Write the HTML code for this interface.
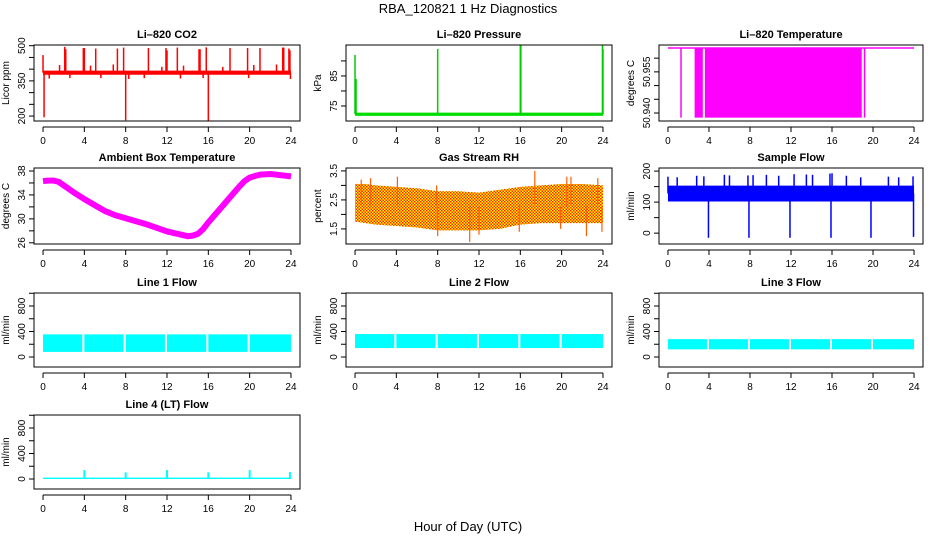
<!DOCTYPE html>
<html><head><meta charset="utf-8"><title>RBA_120821 1 Hz Diagnostics</title>
<style>
html,body{margin:0;padding:0;background:#fff;}
svg{display:block;font-family:"Liberation Sans",Arial,sans-serif;}
.tl{font-size:10px;fill:#000;}
.tt{font-size:11px;font-weight:bold;fill:#000;}
</style></head>
<body>
<svg id="chart" width="936" height="540" viewBox="0 0 936 540" xmlns="http://www.w3.org/2000/svg">
<defs>
<pattern id="rhpat" width="3" height="3" patternUnits="userSpaceOnUse">
<rect width="3" height="3" fill="#ffff00"/>
<rect x="0" y="0" width="1.5" height="1.5" fill="#ff2000"/>
<rect x="1.5" y="1.5" width="1.5" height="1.5" fill="#ff2000"/>
</pattern>
</defs>
<text x="468" y="13" text-anchor="middle" font-size="13">RBA_120821  1 Hz Diagnostics</text>
<text x="468" y="531" text-anchor="middle" font-size="13">Hour of Day (UTC)</text>
</svg>
<script>
// ---------- data ----------
const xTicks = [0,4,8,12,16,20,24];

// Li-820 CO2
const co2BandT = [0,24];
const co2BandLo = [376,376];
const co2BandHi = [394,394];
const co2SpikeT = [0.0,0.1,2.1,2.2,3.9,4.0,5.1,7.2,7.8,8.0,10.2,11.9,12.0,13.0,15.1,15.2,15.8,16.0,18.1,19.8,21.0,23.2,23.3,23.8,23.9,1.6,4.6,6.8,11.5,13.6,17.4,20.4,22.6,0.6,2.6,5.6,8.3,9.8,13.3,15.5,19.9,23.95];
const co2SpikeV = [460,195,495,485,490,490,488,488,492,182,490,490,480,492,485,485,493,178,490,490,490,492,492,488,480,418,415,420,410,415,410,418,420,360,362,362,358,362,360,362,362,358];
const co2Base = 385;

// Li-820 Pressure
const presBandT = [0,24];
const presBandLo = [71.7,71.7];
const presBandHi = [72.8,72.8];
const presSpikeT = [0.0,0.1,8.0,16.0,16.05,23.95,24.0];
const presSpikeV = [92,84,94,95.5,95.5,95.5,94];
const presBase = 72.3;

// Li-820 Temperature
const tempTop = 50.9637;
const tempLow = 50.9383;
const tempFillStart = [1.2,2.6,3.6,19.1];
const tempFillEnd = [1.3,3.4,18.9,19.2];
const tempLineT = [0,24];

// Ambient Box Temperature
const ambT = [0,0.5,1,1.5,2,3,4,5,6,7,8,9,10,11,12,13,14,14.5,15,15.5,16,17,18,19,19.5,20,21,22,23,24];
const ambV = [36.3,36.4,36.4,36.2,35.6,34.4,33.3,32.3,31.3,30.6,30.1,29.6,29.1,28.5,27.9,27.5,27.1,27.2,27.5,28.3,29.4,31.4,33.4,35.4,36.3,36.9,37.4,37.5,37.3,37.1];

// Gas Stream RH
const rhT = [0,1,2,4,6,8,10,12,14,16,18,20,22,24];
const rhLo = [1.75,1.7,1.65,1.6,1.55,1.45,1.45,1.45,1.5,1.65,1.7,1.7,1.7,1.7];
const rhHi = [3.05,3.05,3.0,2.95,2.9,2.8,2.8,2.75,2.85,2.95,3.0,3.05,3.05,3.0];
const rhSpikeT = [0.6,1.5,4.1,7.9,17.4,20.5,20.9,23.5,8.0,11.1,12.0,15.9,19.9,22.4,23.9];
const rhSpikeV = [3.2,3.25,3.3,3.0,3.5,3.3,3.3,3.25,1.25,1.05,1.3,1.4,1.5,1.25,1.4];
const rhBase = 2.3;

// Sample Flow
const sfBandT = [0,24];
const sfBandLo = [102,102];
const sfBandHi = [153,153];
const sfSpikeT = [0.0,0.9,2.8,3.5,5.5,6.0,7.8,8.3,9.6,10.8,12.3,13.5,14.1,15.8,16.0,17.4,18.8,21.5,22.5,23.9,3.95,7.9,11.9,15.9,19.8,23.95];
const sfSpikeV = [182,180,185,183,188,186,186,187,188,185,190,189,188,192,193,185,180,182,180,183,-15,-15,-15,-15,-15,-12];
const sfBase = 128;

// Line flows
const flowSegStart = [0,4,8,12,16,20];
const flowSegEnd = [3.8,7.8,11.8,15.8,19.8,24];
const l1Lo = 80, l1Hi = 355;
const l2Lo = 140, l2Hi = 360;
const l3Lo = 120, l3Hi = 280;
const l4Lo = 0, l4Hi = 22;
const l4SpikeT = [4.0,8.0,12.0,16.0,20.0,23.9];
const l4SpikeV = [140,105,140,105,140,110];

// ---------- layout ----------
const svg = document.getElementById('chart');
const NS = 'http://www.w3.org/2000/svg';
const colX = [[34,300],[346,612],[659,923]];
const rowY = [[45,121],[168,244],[293,367],[415,489]];
const XMIN = -0.874, XMAX = 24.874;
function mk(tag, attrs, parent){const e=document.createElementNS(NS,tag);for(const k in attrs)e.setAttribute(k,attrs[k]);(parent||svg).appendChild(e);return e;}

function panel(name, title, ylab, col, row, ymin, ymax, yTicks, yLabels){
  const [x0,x1]=colX[col],[y0,y1]=rowY[row];
  const g=mk('g',{});
  
  
  const sx=v=>x0+(v-XMIN)/(XMAX-XMIN)*(x1-x0);
  const sy=v=>y1-(v-ymin)/(ymax-ymin)*(y1-y0);
  const cid='clip-'+name;
  const cp=mk('clipPath',{id:cid},g);mk('rect',{x:x0,y:y0,width:x1-x0,height:y1-y0},cp);
  const plot=mk('g',{'clip-path':'url(#'+cid+')'},g);
  
  
  const box=mk('rect',{x:x0,y:y0,width:x1-x0,height:y1-y0,fill:'none',stroke:'#000','stroke-width':1},g);
  
  
  const t=mk('text',{x:(x0+x1)/2,y:y0-7,'text-anchor':'middle',class:'tt'},g);t.textContent=title;
  
  
  const xa=mk('g',{},g);
  
  
  mk('line',{x1:sx(xTicks[0]),x2:sx(xTicks[xTicks.length-1]),y1:y1+6,y2:y1+6,stroke:'#000'},xa);
  xTicks.forEach(v=>{
    mk('line',{x1:sx(v),x2:sx(v),y1:y1+6,y2:y1+11,stroke:'#000'},xa);
    const tx=mk('text',{x:sx(v),y:y1+23,'text-anchor':'middle',class:'tl'},xa);tx.textContent=v;
    
    
  });
  const ya=mk('g',{},g);
  
  
  mk('line',{x1:x0,x2:x0,y1:sy(yTicks[0]),y2:sy(yTicks[yTicks.length-1]),stroke:'#000'},ya);
  yTicks.forEach(v=>{mk('line',{x1:x0-5,x2:x0,y1:sy(v),y2:sy(v),stroke:'#000'},ya);});
  yLabels.forEach(l=>{
    const yy=sy(l[0]);
    const tx=mk('text',{x:x0-9,y:yy,'text-anchor':'middle',transform:'rotate(-90 '+(x0-9)+' '+yy+')',class:'tl'},ya);tx.textContent=l[1];
    
    
  });
  const yc=(y0+y1)/2,xl=x0-25;
  const yl=mk('text',{x:xl,y:yc,'text-anchor':'middle',transform:'rotate(-90 '+xl+' '+yc+')',class:'tl'},g);yl.textContent=ylab;
  
  
  return {plot,sx,sy};
}
function band(p,name,ts,lo,hi,fill){
  let d='M'+ts.map((t,i)=>p.sx(t)+','+p.sy(hi[i])).join(' L');
  for(let i=ts.length-1;i>=0;i--)d+=' L'+p.sx(ts[i])+','+p.sy(lo[i]);
  const e=mk('path',{d:d+'Z',fill:fill,stroke:'none'},p.plot);
  
  
}
function spikes(p,name,ts,vs,base,color,w){
  ts.forEach((t,i)=>{
    const e=mk('line',{x1:p.sx(t),x2:p.sx(t),y1:p.sy(base),y2:p.sy(vs[i]),stroke:color,'stroke-width':w||1.5},p.plot);
    
    
  });
}
function rng(a,b,s){const r=[];for(let v=a;v<=b+1e-9;v+=s)r.push(+v.toFixed(6));return r;}

let p=panel('co2','Li\u2013820 CO2','Licor ppm',0,0,179,503,rng(200,500,50),[[200,'200'],[350,'350'],[500,'500']]);
band(p,'co2-band',co2BandT,co2BandLo,co2BandHi,'#ff0000');
spikes(p,'co2-spike',co2SpikeT,co2SpikeV,co2Base,'#ff0000',1.5);

p=panel('pressure','Li\u2013820 Pressure','kPa',1,0,70,95.3,[75,80,85,90],[[75,'75'],[85,'85']]);
band(p,'pressure-band',presBandT,presBandLo,presBandHi,'#00dd00');
spikes(p,'pressure-spike',presSpikeT,presSpikeV,presBase,'#00cc00',1.5);

p=panel('licor-temp','Li\u2013820 Temperature','degrees C',2,0,50.93708,50.9648,[50.940,50.945,50.950,50.955,50.960],[[50.940,'50.940'],[50.955,'50.955']]);
{const e=mk('line',{x1:p.sx(tempLineT[0]),x2:p.sx(tempLineT[1]),y1:p.sy(tempTop),y2:p.sy(tempTop),stroke:'#ff00ff','stroke-width':1.5},p.plot);

}
tempFillStart.forEach((s,i)=>{
  const e=mk('rect',{x:p.sx(s),y:p.sy(tempTop),width:Math.max(1.5,p.sx(tempFillEnd[i])-p.sx(s)),height:p.sy(tempLow)-p.sy(tempTop),fill:'#ff00ff'},p.plot);
  
  
});

p=panel('ambient','Ambient Box Temperature','degrees C',0,1,25.8,38.5,rng(26,38,2),[[26,'26'],[30,'30'],[34,'34'],[38,'38']]);
{const e=mk('polyline',{points:ambT.map((t,i)=>p.sx(t)+','+p.sy(ambV[i])).join(' '),fill:'none',stroke:'#ff00ff','stroke-width':6,'stroke-linejoin':'round'},p.plot);

}

p=panel('rh','Gas Stream RH','percent',1,1,0.98,3.6,[1.5,2,2.5,3,3.5],[[1.5,'1.5'],[2.5,'2.5'],[3.5,'3.5']]);
band(p,'rh-band',rhT,rhLo,rhHi,'url(#rhpat)');
spikes(p,'rh-spike',rhSpikeT,rhSpikeV,rhBase,'#ff6000',1.2);

p=panel('sample-flow','Sample Flow','ml/min',2,1,-35,210,rng(0,200,50),[[0,'0'],[100,'100'],[200,'200']]);
band(p,'sample-flow-band',sfBandT,sfBandLo,sfBandHi,'#0000ff');
spikes(p,'sample-flow-spike',sfSpikeT,sfSpikeV,sfBase,'#0000ff',1.5);

const flowTicks=rng(0,1000,200), flowLabels=[[0,'0'],[400,'400'],[800,'800']];
function flowPanel(name,title,col,row,lo,hi){
  const q=panel(name,title,'ml/min',col,row,-157,1004,flowTicks,flowLabels);
  flowSegStart.forEach((s,i)=>{
    const e=mk('rect',{x:q.sx(s),y:q.sy(hi),width:q.sx(flowSegEnd[i])-q.sx(s),height:q.sy(lo)-q.sy(hi),fill:'#00ffff'},q.plot);
    
    
  });
  return q;
}
flowPanel('line1-flow','Line 1 Flow',0,2,l1Lo,l1Hi);
flowPanel('line2-flow','Line 2 Flow',1,2,l2Lo,l2Hi);
flowPanel('line3-flow','Line 3 Flow',2,2,l3Lo,l3Hi);
p=panel('line4-flow','Line 4 (LT) Flow','ml/min',0,3,-157,1004,flowTicks,flowLabels);
{const e=mk('rect',{x:p.sx(0),y:p.sy(l4Hi),width:p.sx(24)-p.sx(0),height:p.sy(l4Lo)-p.sy(l4Hi),fill:'#00ffff'},p.plot);

}
spikes(p,'line4-flow-spike',l4SpikeT,l4SpikeV,10,'#00ffff',2);
</script>
</body></html>
